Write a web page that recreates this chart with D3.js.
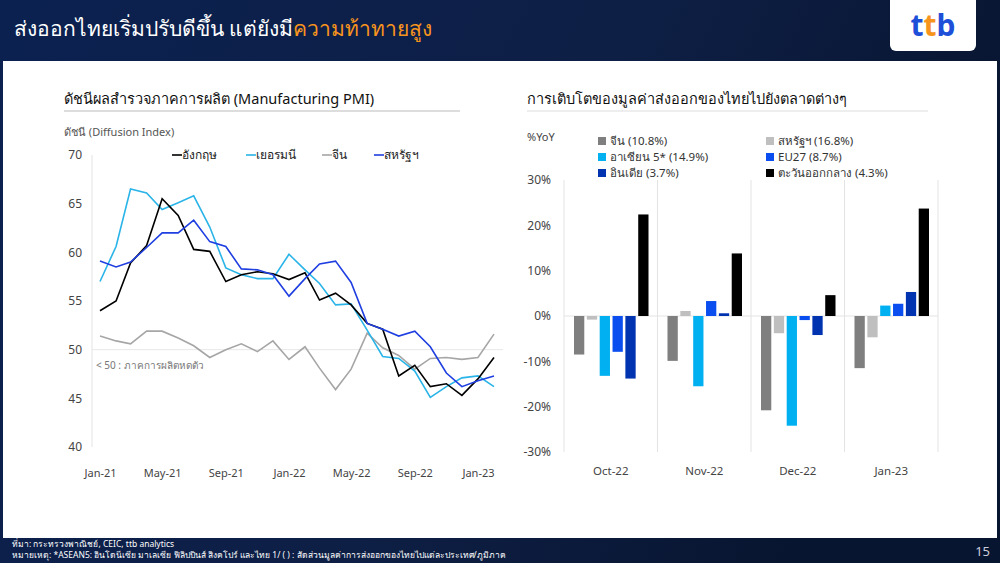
<!DOCTYPE html>
<html>
<head>
<meta charset="utf-8">
<script src="https://cdn.jsdelivr.net/npm/d3@7.9.0/dist/d3.min.js"></script>
<style>
  body { margin: 0; width: 1000px; height: 563px; overflow: hidden; font-family: "Noto Sans", "Noto Sans Thai", sans-serif; }
  svg text { font-family: "Noto Sans", sans-serif; }
</style>
</head>
<body>
<svg id="chart" width="1000" height="563"></svg>
<script>
// PMI line chart data (Jan-21 .. Feb-23)
const months = d3.range(26).map((i) => new Date(2021, i, 1));
const pmiTicks = ['Jan-21', 'May-21', 'Sep-21', 'Jan-22', 'May-22', 'Sep-22', 'Jan-23'];
const ukPmi = [54.0, 55.0, 58.9, 60.7, 65.5, 63.8, 60.3, 60.1, 57.0, 57.7, 58.0, 57.8, 57.2, 57.9, 55.1, 55.8, 54.6, 52.7, 52.1, 47.3, 48.4, 46.2, 46.5, 45.3, 47.0, 49.2];
const germanyPmi = [57.0, 60.6, 66.5, 66.1, 64.4, 65.1, 65.8, 62.6, 58.4, 57.7, 57.3, 57.3, 59.8, 58.2, 56.8, 54.6, 54.7, 52.0, 49.3, 49.1, 47.8, 45.1, 46.2, 47.1, 47.3, 46.2];
const chinaPmi = [51.4, 50.9, 50.6, 51.9, 51.9, 51.2, 50.4, 49.2, 50.0, 50.6, 49.8, 50.9, 49.0, 50.3, 48.1, 45.9, 48.0, 51.7, 50.2, 49.4, 48.0, 49.1, 49.2, 49.0, 49.2, 51.6];
const usPmi = [59.1, 58.5, 59.0, 60.5, 62.0, 62.0, 63.3, 61.1, 60.6, 58.3, 58.2, 57.7, 55.5, 57.3, 58.8, 59.1, 56.9, 52.7, 52.1, 51.4, 51.9, 50.3, 47.6, 46.2, 46.8, 47.3];
const pmiSeries = [
  { name: 'อังกฤษ', values: ukPmi, color: '#000000' },
  { name: 'เยอรมนี', values: germanyPmi, color: '#2ab4e8' },
  { name: 'จีน', values: chinaPmi, color: '#a6a6a6' },
  { name: 'สหรัฐฯ', values: usPmi, color: '#1f3fe0' },
];

// Export growth bar chart data
const exportMonths = ['Oct-22', 'Nov-22', 'Dec-22', 'Jan-23'];
const markets = ['จีน (10.8%)', 'สหรัฐฯ (16.8%)', 'อาเซียน 5* (14.9%)', 'EU27 (8.7%)', 'อินเดีย (3.7%)', 'ตะวันออกกลาง (4.3%)'];
const marketColors = ['#7f7f7f', '#bfbfbf', '#00b0f0', '#0a4ef0', '#0033b0', '#000000'];
const chinaGrowth = [-8.5, -9.9, -20.8, -11.5];
const usGrowth = [-0.8, 1.1, -3.8, -4.7];
const aseanGrowth = [-13.2, -15.5, -24.2, 2.3];
const euGrowth = [-7.9, 3.3, -0.9, 2.7];
const indiaGrowth = [-13.8, 0.6, -4.2, 5.3];
const middleEastGrowth = [22.4, 13.8, 4.6, 23.7];
const growthSeries = [chinaGrowth, usGrowth, aseanGrowth, euGrowth, indiaGrowth, middleEastGrowth];

const svg = d3.select('#chart');

// background
const bg = svg.append('defs').append('linearGradient').attr('id', 'bg').attr('x1', 0).attr('x2', 1).attr('y1', 0).attr('y2', 0.3);
bg.append('stop').attr('offset', 0).attr('stop-color', '#0b2150');
bg.append('stop').attr('offset', 0.6).attr('stop-color', '#0e1f45');
bg.append('stop').attr('offset', 1).attr('stop-color', '#081530');
svg.append('rect').attr('width', 1000).attr('height', 563).attr('fill', 'url(#bg)');
svg.append('rect').attr('x', 3).attr('y', 61).attr('width', 994).attr('height', 477).attr('fill', '#fff');

const title = svg.append('text').attr('x', 14).attr('y', 36).attr('font-size', 21).attr('fill', '#fff');
title.append('tspan').text('ส่งออกไทยเริ่มปรับดีขึ้น แต่ยังมี');
title.append('tspan').attr('fill', '#f7941d').text('ความท้าทายสูง');

// logo
svg.append('rect').attr('x', 890).attr('y', -10).attr('width', 86).attr('height', 61).attr('rx', 6).attr('fill', '#fff');
const logo = svg.append('text').attr('x', 933).attr('y', 36).attr('text-anchor', 'middle').attr('font-size', 30).attr('font-weight', 'bold');
logo.append('tspan').attr('fill', '#1e4fd8').text('t');
logo.append('tspan').attr('fill', '#f7941d').text('t');
logo.append('tspan').attr('fill', '#1e4fd8').text('b');

// footer
svg.append('text').attr('x', 12).attr('y', 547).attr('font-size', 8.5).attr('fill', '#fff').text('ที่มา: กระทรวงพาณิชย์, CEIC, ttb analytics');
svg.append('text').attr('x', 12).attr('y', 558).attr('font-size', 8.5).attr('fill', '#fff').text('หมายเหตุ: *ASEAN5: อินโดนีเซีย มาเลเซีย ฟิลิปปินส์ สิงคโปร์ และไทย  1/ ( ) : สัดส่วนมูลค่าการส่งออกของไทยไปแต่ละประเทศ/ภูมิภาค');
svg.append('text').attr('x', 990).attr('y', 556).attr('text-anchor', 'end').attr('font-size', 13).attr('fill', '#ccd').text('15');

// panel titles
svg.append('text').attr('x', 64).attr('y', 104).attr('font-size', 14.5).attr('fill', '#111').text('ดัชนีผลสำรวจภาคการผลิต (Manufacturing PMI)');
svg.append('line').attr('x1', 64).attr('x2', 460).attr('y1', 111).attr('y2', 111).attr('stroke', '#bbb');
svg.append('text').attr('x', 527).attr('y', 104).attr('font-size', 14.5).attr('fill', '#111').text('การเติบโตของมูลค่าส่งออกของไทยไปยังตลาดต่างๆ');
svg.append('line').attr('x1', 527).attr('x2', 928).attr('y1', 111).attr('y2', 111).attr('stroke', '#ddd');

// ---------- line chart ----------
const x = d3.scaleTime().domain([months[0], months[25]]).range([100, 494]);
const y = d3.scaleLinear().domain([40, 70]).range([447, 155]);

svg.append('text').attr('x', 64).attr('y', 136).attr('font-size', 11).attr('fill', '#555').text('ดัชนี (Diffusion Index)');
svg.append('line').attr('x1', 92).attr('x2', 92).attr('y1', 155).attr('y2', 447).attr('stroke', '#e3e3e3');
svg.append('line').attr('x1', 92).attr('x2', 503).attr('y1', y(50)).attr('y2', y(50)).attr('stroke', '#e8e8e8');

const yAxis = svg.append('g').attr('transform', 'translate(82,0)')
  .call(d3.axisLeft(y).tickValues(d3.range(40, 71, 5)).tickSize(0).tickPadding(0));
yAxis.select('.domain').remove();
yAxis.selectAll('text').attr('font-size', 12).attr('fill', '#444');

const xAxis = svg.append('g').attr('transform', 'translate(0,466)')
  .call(d3.axisBottom(x).tickValues(d3.range(0, 25, 4).map((i) => months[i])).tickFormat((d, i) => pmiTicks[i]).tickSize(0));
xAxis.select('.domain').remove();
xAxis.selectAll('text').attr('font-size', 11).attr('fill', '#444');

svg.append('text').attr('x', 96).attr('y', 369).attr('font-size', 10).attr('fill', '#777').text('< 50 : ภาคการผลิตหดตัว');

const line = d3.line().x((d, i) => x(months[i])).y((d) => y(d));
['จีน', 'เยอรมนี', 'อังกฤษ', 'สหรัฐฯ'].forEach((n) => {
  const s = pmiSeries.find((p) => p.name === n);
  svg.append('path').attr('d', line(s.values)).attr('fill', 'none').attr('stroke', s.color).attr('stroke-width', 1.6);
});

const lineLegendX = [172, 246, 322, 374];
pmiSeries.forEach((s, i) => {
  svg.append('line').attr('x1', lineLegendX[i]).attr('x2', lineLegendX[i] + 10).attr('y1', 155).attr('y2', 155).attr('stroke', s.color).attr('stroke-width', 1.6);
  svg.append('text').attr('x', lineLegendX[i] + 10).attr('y', 159).attr('font-size', 12).attr('fill', '#222').text(s.name);
});

// ---------- bar chart ----------
const by = d3.scaleLinear().domain([-30, 30]).range([452, 180]);
const bx = d3.scaleBand().domain(exportMonths).range([564, 938]);
const inner = d3.scaleBand().domain(d3.range(6)).range([10, bx.bandwidth() - 9]).paddingInner(0.2);

svg.append('text').attr('x', 527).attr('y', 141).attr('font-size', 11).attr('fill', '#444').text('%YoY');

bx.domain().concat(['end']).forEach((m, i) => {
  const xx = 564 + i * bx.bandwidth();
  svg.append('line').attr('x1', xx).attr('x2', xx).attr('y1', 180).attr('y2', 452).attr('stroke', '#e3e3e3');
});
svg.append('line').attr('x1', 564).attr('x2', 938).attr('y1', by(0)).attr('y2', by(0)).attr('stroke', '#e3e3e3');

const byAxis = svg.append('g').attr('transform', 'translate(551,0)')
  .call(d3.axisLeft(by).tickValues(d3.range(-30, 31, 10)).tickFormat((d) => d + '%').tickSize(0).tickPadding(0));
byAxis.select('.domain').remove();
byAxis.selectAll('text').attr('font-size', 12).attr('fill', '#444');

const bxAxis = svg.append('g').attr('transform', 'translate(0,464)').call(d3.axisBottom(bx).tickSize(0));
bxAxis.select('.domain').remove();
bxAxis.selectAll('text').attr('font-size', 11.5).attr('fill', '#444');

growthSeries.forEach((vals, k) => {
  svg.append('g').selectAll('rect').data(vals).join('rect')
    .attr('x', (d, i) => bx(exportMonths[i]) + inner(k))
    .attr('width', inner.bandwidth())
    .attr('y', (d) => by(Math.max(0, d)))
    .attr('height', (d) => Math.abs(by(d) - by(0)))
    .attr('fill', marketColors[k]);
});

markets.forEach((m, k) => {
  const lx = k % 2 === 0 ? 598 : 766;
  const ly = 141 + Math.floor(k / 2) * 16;
  svg.append('rect').attr('x', lx).attr('y', ly - 4).attr('width', 8).attr('height', 8).attr('fill', marketColors[k]);
  svg.append('text').attr('x', lx + 12).attr('y', ly + 4).attr('font-size', 11.5).attr('fill', '#333').text(m);
});
</script>
</body>
</html>
